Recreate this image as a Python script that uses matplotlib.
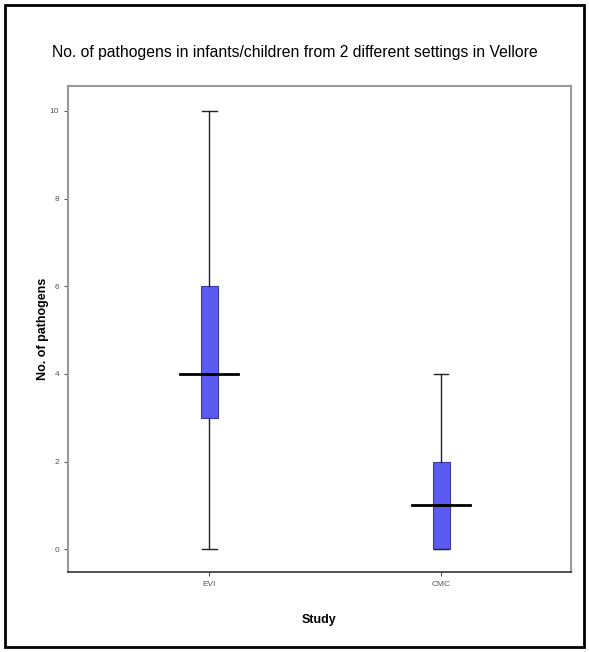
import matplotlib.pyplot as plt
from matplotlib.patches import Rectangle

studies = ['EVI', 'CMC']
whisker_low = [0, 0]
q1 = [3, 0]
median = [4, 1]
q3 = [6, 2]
whisker_high = [10, 4]
y_ticks = [0, 2, 4, 6, 8, 10]

plt.rcParams['font.family'] = ['Liberation Sans', 'DejaVu Sans']

fig = plt.figure(figsize=(5.89, 6.52), dpi=100)
ax = fig.add_axes([68 / 589, 80 / 652, 503 / 589, 486 / 652])

stats = []
for i, name in enumerate(studies):
    stats.append({'label': name, 'whislo': whisker_low[i], 'q1': q1[i],
                  'med': median[i], 'q3': q3[i], 'whishi': whisker_high[i],
                  'fliers': []})

ax.bxp(stats, positions=[0, 1], widths=0.072, patch_artist=True,
       boxprops=dict(facecolor='#5b5bf2', edgecolor='#3a3aa0', linewidth=0.8),
       whiskerprops=dict(color='#222222', linewidth=1),
       capprops=dict(color='#222222', linewidth=1),
       medianprops=dict(color='black', linewidth=2),
       capwidths=0.062, showfliers=False)

# wide median bars
for i in range(len(studies)):
    ax.plot([i - 0.125, i + 0.125], [median[i], median[i]], color='black', lw=2)

ax.set_xlim(-0.61, 1.56)
ax.set_ylim(-0.52, 10.57)
ax.set_yticks(y_ticks)
ax.set_yticklabels([str(t) for t in y_ticks])
ax.set_xticks([0, 1])
ax.set_xticklabels(studies)
ax.tick_params(labelsize=6, colors='#555555', length=3, width=0.8)

for side in ['left', 'top', 'right']:
    ax.spines[side].set_color('#999999')
    ax.spines[side].set_linewidth(1.5)
ax.spines['bottom'].set_color('#333333')
ax.spines['bottom'].set_linewidth(1.2)

ax.set_ylabel('No. of pathogens', fontsize=9, fontweight='bold', labelpad=0.5)
ax.set_xlabel('Study', fontsize=9, fontweight='bold', labelpad=19)
fig.text(0.5, 1 - 52 / 652, 'No. of pathogens in infants/children from 2 different settings in Vellore',
         ha='center', va='center', fontsize=11.3)

fig.patches.append(Rectangle((5 / 589, 5 / 652), 579 / 589, 642 / 652,
                             transform=fig.transFigure, fill=False,
                             edgecolor='black', linewidth=2))

fig.savefig('out.png', dpi=100)
